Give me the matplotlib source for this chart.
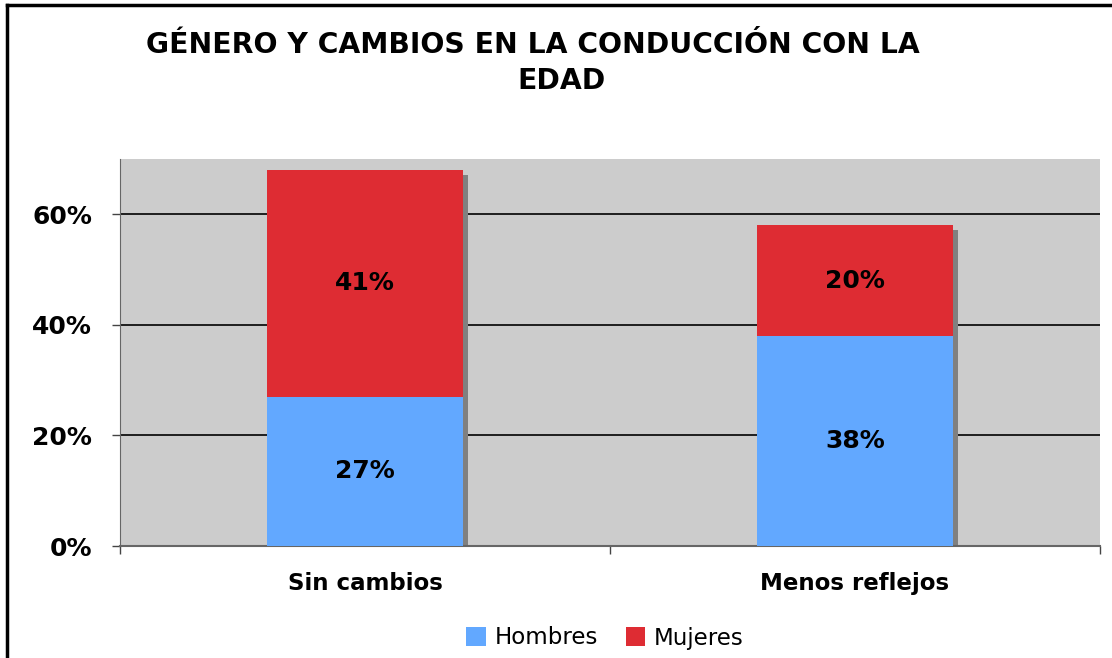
import matplotlib
matplotlib.use("Agg")
import matplotlib.pyplot as plt
from matplotlib.transforms import ScaledTranslation
from matplotlib.lines import Line2D
from matplotlib.ticker import FixedLocator, PercentFormatter

categories = ["Sin cambios", "Menos reflejos"]
hombres = [27, 38]
mujeres = [41, 20]
series_names = ["Hombres", "Mujeres"]
title_lines = ["GÉNERO Y CAMBIOS EN LA CONDUCCIÓN CON LA", "EDAD"]

plt.rcParams['font.family'] = ['DejaVu Sans']

W, H = 1112, 658
fig = plt.figure(figsize=(W / 100, H / 100), dpi=100)
ax = fig.add_axes([120 / W, (H - 546) / H, 980 / W, 387 / H])
ax.set_facecolor("#CCCCCC")

x = [i + 0.5 for i in range(len(categories))]
totals = [a + b for a, b in zip(hombres, mujeres)]
width = 0.4

# shadow
shadow_tr = ax.transData + ScaledTranslation(5 / 100, -5 / 100, fig.dpi_scale_trans)
ax.bar(x, totals, width=width, color="#808080", transform=shadow_tr, zorder=2, linewidth=0)

b1 = ax.bar(x, hombres, width=width, color="#62A8FF", zorder=3, linewidth=0, label=series_names[0])
b2 = ax.bar(x, mujeres, width=width, bottom=hombres, color="#DE2C33", zorder=3, linewidth=0,
            label=series_names[1])

for xi, h, m in zip(x, hombres, mujeres):
    ax.text(xi, h / 2, f"{h}%", ha="center", va="center", fontsize=18, fontweight="bold", zorder=4)
    ax.text(xi, h + m / 2, f"{m}%", ha="center", va="center", fontsize=18, fontweight="bold", zorder=4)

ax.set_xlim(0, len(categories))
ax.set_ylim(0, 70)
ax.yaxis.set_major_locator(FixedLocator([0, 20, 40, 60]))
ax.yaxis.set_major_formatter(PercentFormatter(decimals=0))
ax.grid(axis="y", color="black", linewidth=1.2, zorder=1)
ax.set_axisbelow(True)

ax.set_xticks([0, 1, 2])
ax.set_xticklabels([])
ax.set_xticks(x, minor=True)
ax.set_xticklabels(categories, minor=True, fontsize=16.5, fontweight="bold")
ax.tick_params(axis="x", which="minor", length=0, pad=19)
ax.tick_params(axis="x", which="major", length=6, color="#444444", width=1)
ax.tick_params(axis="y", length=6, color="#444444", width=1, pad=14, labelsize=18)
for lbl in ax.get_yticklabels():
    lbl.set_fontweight("bold")

for side in ["top", "right"]:
    ax.spines[side].set_visible(False)
ax.spines["left"].set_color("#666666")
ax.spines["bottom"].set_color("#666666")
ax.spines["bottom"].set_linewidth(1.5)

fig.text(533 / W, 1 - 45 / H, title_lines[0], ha="center", va="center",
         fontsize=20.3, fontweight="bold")
fig.text(561 / W, 1 - 81 / H, title_lines[1], ha="center", va="center", fontsize=20.3, fontweight="bold")

fig.legend(handles=[b1, b2], labels=series_names, loc="center", bbox_to_anchor=(605 / W, 1 - 638 / H),
           ncol=2, frameon=False, fontsize=16.5, handlelength=0.85, handleheight=0.85,
           handletextpad=0.4, columnspacing=1.2)

# figure frame (left and top edges)
fig.add_artist(Line2D([7 / W, 7 / W], [0, 1 - 5 / H], color="black", linewidth=2.5, transform=fig.transFigure))
fig.add_artist(Line2D([7 / W, 1], [1 - 5 / H, 1 - 5 / H], color="black", linewidth=2.5, transform=fig.transFigure))

fig.savefig("out.png", dpi=100)
